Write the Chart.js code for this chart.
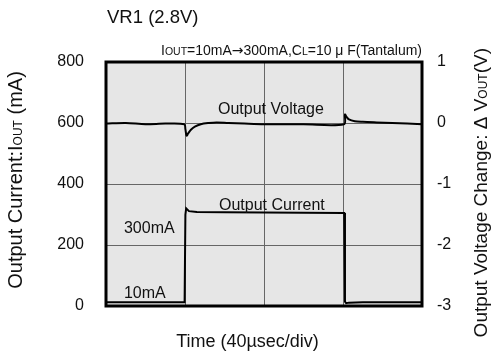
<!DOCTYPE html>
<html><head><meta charset="utf-8">
<script src="https://cdn.jsdelivr.net/npm/chart.js@4/dist/chart.umd.min.js"></script>
<style>html,body{margin:0;padding:0;background:#fff;overflow:hidden}</style>
</head><body>
<canvas id="c" width="491" height="356"></canvas>
<script>
// ---- data ----
const timeCurrent = [0, 20, 39.8, 40.2, 40.6, 42, 46, 60, 100, 120.6, 121.0, 121.6, 123, 130, 160];
const currentMA   = [12, 12, 12, 300, 320, 311, 308, 307, 306, 305, 14, 9, 11, 12, 12];
const timeVoltage = [0, 10, 20, 30, 39.6, 40.2, 40.8, 41.6, 43, 45, 48, 52, 56, 62, 70, 80, 100, 120.5, 121.0, 121.6, 123, 126, 130, 137, 145, 160];
const voltageDV   = [-0.01, 0.0, -0.02, -0.01, -0.02, -0.1, -0.21, -0.17, -0.11, -0.06, -0.02, 0.0, 0.01, 0.0, -0.01, -0.02, -0.02, -0.02, 0.14, 0.11, 0.06, 0.03, 0.02, 0.01, 0.0, -0.02];
const currentTicks = [0, 200, 400, 600, 800];
const voltageTicks = [-3, -2, -1, 0, 1];
const chartTitle = "VR1 (2.8V)";
const conditionText = [["I", "n"], ["OUT", "s"], ["=10mA", "n"], ["\u2192", "a"], ["300mA,C", "n"], ["L", "s"], ["=10 \u03BC F(Tantalum)", "n"]];
const leftTitle = [["Output Current:I", "n"], ["OUT", "s"], [" (mA)", "n"]];
const rightTitle = [["Output Voltage Change: \u0394 V", "n"], ["OUT", "s"], ["(V)", "n"]];
const xTitle = "Time (40\u00B5sec/div)";
const traceLabels = [
  { text: "Output Voltage", t: 83.5, v: 628, align: "center" },
  { text: "Output Current", t: 84, v: 316, align: "center" },
  { text: "300mA", t: 9.1, v: 240, align: "left" },
  { text: "10mA", t: 9.1, v: 25, align: "left" }
];

const FONT = '"Liberation Sans", Arial, Helvetica, sans-serif';
const ARROW_FONT = '"DejaVu Sans", sans-serif';

function drawSegs(ctx, segs, size, small, x, y, align, rot) {
  ctx.save();
  ctx.translate(x, y);
  if (rot) ctx.rotate(rot);
  ctx.textBaseline = 'alphabetic';
  ctx.textAlign = 'left';
  const fontOf = k => k === 's' ? small + 'px ' + FONT : k === 'a' ? size + 'px ' + ARROW_FONT : size + 'px ' + FONT;
  let widths = segs.map(([t, k]) => { ctx.font = fontOf(k); return ctx.measureText(t).width; });
  let total = widths.reduce((a, b) => a + b, 0);
  let cx = align === 'center' ? -total / 2 : align === 'right' ? -total : 0;
  segs.forEach(([t, k], i) => {
    ctx.font = fontOf(k);
    ctx.fillStyle = '#111';
    ctx.fillText(t, cx, 0);
    cx += widths[i];
  });
  ctx.restore();
}

const decor = {
  id: 'decor',
  beforeDraw(chart) {
    const { ctx, chartArea: a } = chart;
    ctx.save();
    ctx.fillStyle = '#e6e6e6';
    ctx.fillRect(a.left, a.top, a.right - a.left, a.bottom - a.top);
    ctx.restore();
  },
  afterDatasetsDraw(chart) {
    const { ctx, chartArea: a } = chart;
    ctx.save();
    ctx.strokeStyle = '#000';
    ctx.lineWidth = 3;
    ctx.strokeRect(a.left, a.top, a.right - a.left, a.bottom - a.top);
    ctx.restore();
  },
  afterDraw(chart) {
    const { ctx, chartArea: a, scales } = chart;
    drawSegs(ctx, [[chartTitle, 'n']], 18.5, 18.5, 107, 22.5, 'left', 0);
    drawSegs(ctx, conditionText, 14, 10.5, a.right, 55, 'right', 0);
    drawSegs(ctx, leftTitle, 20, 12, 22, 180, 'center', -Math.PI / 2);
    drawSegs(ctx, rightTitle, 19, 12, 487, 48, 'right', -Math.PI / 2);
    drawSegs(ctx, [[xTitle, 'n']], 18, 18, 247.5, 346.5, 'center', 0);
    traceLabels.forEach(l => {
      drawSegs(ctx, [[l.text, 'n']], 16, 16, scales.x.getPixelForValue(l.t), scales.y.getPixelForValue(l.v), l.align, 0);
    });
  }
};

new Chart(document.getElementById('c'), {
  type: 'line',
  data: {
    datasets: [
      { label: 'Output Current', data: timeCurrent.map((t, i) => ({ x: t, y: currentMA[i] })), yAxisID: 'y',
        borderColor: '#000', borderWidth: 2, pointRadius: 0, tension: 0, fill: false },
      { label: 'Output Voltage', data: timeVoltage.map((t, i) => ({ x: t, y: voltageDV[i] })), yAxisID: 'y2',
        borderColor: '#000', borderWidth: 2, pointRadius: 0, tension: 0.3, fill: false }
    ]
  },
  options: {
    responsive: false, animation: false, devicePixelRatio: 1,
    layout: { padding: { top: 62, left: 0, right: 0, bottom: 0 } },
    plugins: { legend: { display: false }, tooltip: { enabled: false }, title: { display: false } },
    scales: {
      x: { type: 'linear', min: 0, max: 160,
        ticks: { display: false, stepSize: 40 },
        grid: { color: '#666', lineWidth: 1, drawTicks: false },
        border: { display: false },
        afterFit(s) { s.height = 50; } },
      y: { type: 'linear', position: 'left', min: 0, max: 800,
        afterBuildTicks(s) { s.ticks = currentTicks.map(v => ({ value: v })); },
        ticks: { color: '#111', font: { size: 16, family: FONT }, padding: 22 },
        grid: { color: '#666', lineWidth: 1, drawTicks: false },
        border: { display: false },
        afterFit(s) { s.width = 106; } },
      y2: { type: 'linear', position: 'right', min: -3, max: 1,
        afterBuildTicks(s) { s.ticks = voltageTicks.map(v => ({ value: v })); },
        ticks: { color: '#111', font: { size: 16, family: FONT }, padding: 15 },
        grid: { drawOnChartArea: false, drawTicks: false },
        border: { display: false },
        afterFit(s) { s.width = 69; } }
    }
  },
  plugins: [decor]
});
</script>
</body></html>
